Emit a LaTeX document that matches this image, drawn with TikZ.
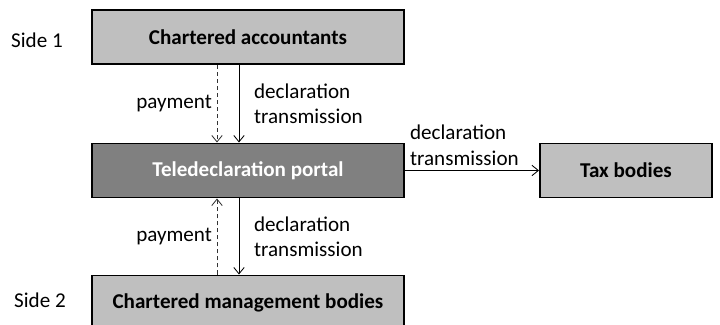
\documentclass[tikz,border=0pt]{standalone}
\usepackage{fontspec}
\setmainfont{Carlito}
\usetikzlibrary{arrows.meta,positioning}

\begin{document}
\begin{tikzpicture}
[node distance=1cm,
%
party/.style={shape=rectangle,draw=black,line width=1.4pt,fill=black!25,
  minimum width=7.8cm,minimum height=1.35cm,inner sep=0pt,
  font=\fontsize{15}{18}\selectfont\bfseries},
portal/.style={party,fill=black!50,text=white},
taxbox/.style={party,minimum width=4.3cm},
side/.style={font=\fontsize{15}{18}\selectfont},
flowlabel/.style={font=\fontsize{15}{18}\selectfont,align=left},
%
flow/.style={draw,line width=0.6pt,-{Straight Barb[length=1.6mm,width=2.6mm]}},
pay/.style={flow,densely dashed,draw=black!80}]
%
\useasboundingbox (0,0) rectangle (18,-8.125);
\clip (0,0) rectangle (18,-8.125);
%
%% parties
\def\dpay{0.775}
\def\ddecl{0.225}
\node (acc) [party] at (6.2,-0.925) {Chartered accountants};
\node (tele) [portal] at (6.2,-4.2625) {Teledeclaration portal};
\node (mgmt) [party] at (6.2,-7.5625) {Chartered management bodies};
\node (tax) [taxbox] at (15.65,-4.2625) {Tax bodies};
%
%% sides
\node (s1) [side] at (0.925,-1.0) {Side 1};
\node (s2) [side] at (1.0,-7.5) {Side 2};
%
%% side 1 to portal
\draw[pay] ([xshift=-\dpay cm]acc.south) -- ([xshift=-\dpay cm]tele.north)
  node (p1) [midway,left,flowlabel] {payment};
\draw[flow] ([xshift=-\ddecl cm]acc.south) -- ([xshift=-\ddecl cm]tele.north)
  node (d1) [midway,right,xshift=0.25cm,flowlabel] {declaration\\transmission};
%%
%% side 2 to portal
\draw[pay] ([xshift=-\dpay cm]mgmt.north) -- ([xshift=-\dpay cm]tele.south)
  node (p2) [midway,left,flowlabel] {payment};
\draw[flow] ([xshift=-\ddecl cm]tele.south) -- ([xshift=-\ddecl cm]mgmt.north)
  node (d2) [midway,right,xshift=0.25cm,flowlabel] {declaration\\transmission};
%%
%% portal to tax bodies
\draw[flow] (tele) -- (tax)
  node (d3) [pos=0,above right,flowlabel] {declaration\\transmission};
\end{tikzpicture}
\end{document}
